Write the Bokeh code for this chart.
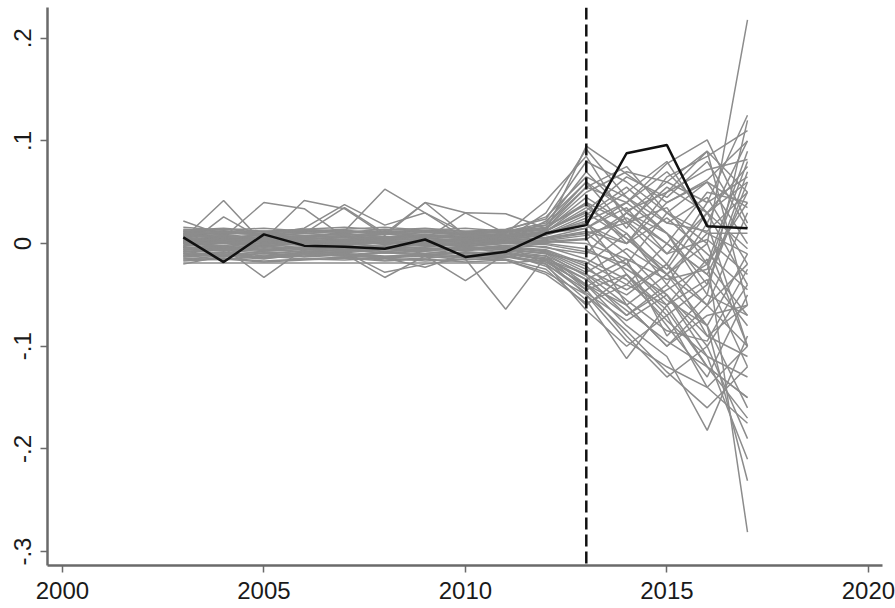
from bokeh.plotting import figure
from bokeh.models import Range1d, FixedTicker, Span
from bokeh.embed import file_html
from bokeh.resources import INLINE

years = [2003, 2004, 2005, 2006, 2007, 2008, 2009, 2010, 2011, 2012, 2013, 2014, 2015, 2016, 2017]
treatment_year = 2013
x_ticks = [2000, 2005, 2010, 2015, 2020]
y_ticks = [-0.3, -0.2, -0.1, 0.0, 0.1, 0.2]
y_tick_labels = ["-.3", "-.2", "-.1", "0", ".1", ".2"]

treated_gap = [0.006, -0.018, 0.009, -0.002, -0.003, -0.005, 0.004, -0.013, -0.008, 0.010, 0.018, 0.088, 0.096, 0.017, 0.015]

gap_u01 = [0.012, 0.011, 0.012, 0.012, 0.011, 0.012, 0.012, 0.011, 0.012, 0.013, 0.030, 0.005, -0.030, -0.060, -0.100]
gap_u02 = [-0.019, -0.019, -0.019, -0.019, -0.019, -0.019, -0.019, -0.019, -0.019, -0.016, -0.035, -0.065, -0.095, -0.120, -0.150]
gap_u03 = [0.022, 0.008, 0.004, 0.006, 0.003, 0.005, 0.006, 0.002, 0.004, 0.012, 0.095, 0.068, 0.040, 0.062, 0.100]
gap_u04 = [0.005, 0.042, 0.000, 0.003, 0.002, 0.004, 0.003, 0.001, 0.004, 0.030, 0.092, 0.045, 0.020, 0.012, 0.050]
gap_u05 = [-0.004, 0.026, 0.004, 0.042, 0.034, 0.008, 0.040, 0.030, 0.010, 0.042, 0.085, 0.022, -0.010, 0.004, -0.030]
gap_u06 = [0.002, -0.004, -0.033, -0.005, 0.000, -0.003, -0.010, -0.005, -0.002, -0.020, -0.065, -0.100, -0.070, -0.140, -0.175]
gap_u07 = [-0.010, -0.005, -0.008, -0.010, -0.008, -0.028, -0.020, -0.015, -0.064, -0.012, -0.040, -0.080, -0.110, -0.182, -0.090]
gap_u08 = [0.000, 0.004, 0.006, 0.005, 0.012, 0.053, 0.030, 0.005, 0.002, 0.022, 0.060, 0.032, 0.050, 0.072, 0.082]
gap_u09 = [0.008, 0.010, 0.009, 0.015, 0.038, 0.018, 0.030, 0.010, 0.008, 0.010, 0.022, 0.040, 0.078, 0.101, 0.020]
gap_u10 = [-0.012, -0.010, -0.014, -0.008, -0.010, -0.012, -0.011, -0.009, -0.010, -0.022, -0.055, -0.112, -0.060, -0.035, -0.120]
gap_u11 = [0.004, 0.002, 0.005, 0.001, 0.003, 0.000, 0.002, 0.004, 0.003, 0.006, 0.010, -0.020, 0.030, 0.000, 0.218]
gap_u12 = [-0.006, -0.004, -0.002, -0.006, -0.004, -0.008, -0.005, -0.003, -0.006, -0.010, -0.018, -0.040, -0.060, -0.015, -0.281]
gap_u13 = [0.010, 0.006, 0.008, 0.004, 0.007, 0.005, 0.009, 0.006, 0.008, 0.012, 0.035, 0.010, -0.030, -0.080, -0.231]
gap_u14 = [-0.015, -0.012, -0.010, -0.013, -0.011, -0.014, -0.012, -0.016, -0.013, -0.020, -0.045, -0.090, -0.130, -0.100, -0.190]
gap_u15 = [0.006, 0.004, 0.010, 0.008, 0.006, 0.010, 0.008, 0.007, 0.009, 0.015, 0.050, 0.070, 0.060, 0.040, 0.125]
gap_u16 = [-0.002, 0.000, -0.003, 0.002, -0.001, 0.001, -0.002, 0.000, 0.001, -0.004, -0.010, 0.030, 0.010, -0.050, 0.120]
gap_u17 = [0.014, 0.012, 0.010, 0.014, 0.012, 0.010, 0.013, 0.012, 0.011, 0.016, 0.040, 0.000, 0.050, 0.090, -0.060]
gap_u18 = [-0.008, -0.006, -0.010, -0.007, -0.009, -0.006, -0.008, -0.010, -0.007, -0.012, -0.030, -0.050, -0.020, -0.090, -0.110]
gap_u19 = [0.003, 0.006, 0.002, 0.005, 0.004, 0.006, 0.003, 0.005, 0.004, 0.008, 0.020, -0.030, -0.070, -0.040, 0.070]
gap_u20 = [-0.014, -0.016, -0.012, -0.015, -0.013, -0.016, -0.014, -0.012, -0.015, -0.025, -0.060, -0.030, -0.080, -0.130, -0.050]
gap_u21 = [0.009, 0.007, 0.006, 0.008, 0.010, 0.007, 0.006, 0.009, 0.008, 0.010, 0.015, 0.035, -0.010, 0.030, 0.060]
gap_u22 = [0.001, -0.002, 0.003, 0.000, 0.002, -0.001, 0.001, 0.003, 0.000, 0.002, 0.005, -0.060, -0.100, -0.060, -0.020]
gap_u23 = [-0.004, -0.002, -0.006, -0.003, -0.005, -0.002, -0.004, -0.006, -0.003, -0.006, -0.020, 0.010, -0.040, 0.020, -0.100]
gap_u24 = [0.011, 0.009, 0.012, 0.010, 0.008, 0.011, 0.009, 0.010, 0.012, 0.020, 0.070, 0.030, 0.000, 0.050, 0.040]
gap_u25 = [-0.010, -0.013, -0.009, -0.012, -0.010, -0.013, -0.011, -0.009, -0.012, -0.018, -0.040, -0.070, -0.040, -0.080, -0.160]
gap_u26 = [0.005, 0.003, 0.007, 0.004, 0.006, 0.003, 0.005, 0.007, 0.004, 0.009, 0.025, 0.050, 0.080, 0.020, 0.100]
gap_u27 = [-0.001, 0.002, -0.002, 0.001, -0.001, 0.002, 0.000, -0.002, 0.001, 0.000, -0.005, -0.025, -0.050, -0.100, -0.040]
gap_u28 = [0.007, 0.009, 0.005, 0.008, 0.006, 0.009, 0.007, 0.005, 0.008, 0.014, 0.045, 0.020, 0.035, -0.020, 0.090]
gap_u29 = [-0.007, -0.009, -0.005, -0.008, -0.006, -0.009, -0.007, -0.005, -0.008, -0.014, -0.035, -0.015, -0.090, -0.050, -0.070]
gap_u30 = [0.013, 0.015, 0.012, 0.014, 0.016, 0.013, 0.015, 0.012, 0.014, 0.024, 0.080, 0.060, 0.030, 0.010, -0.010]
gap_u31 = [-0.003, -0.005, -0.001, -0.004, -0.002, -0.005, -0.003, -0.001, -0.004, -0.008, -0.025, -0.045, -0.020, -0.060, 0.030]
gap_u32 = [0.002, 0.005, 0.001, 0.004, 0.002, 0.005, 0.003, 0.001, 0.004, 0.005, 0.012, 0.000, 0.040, 0.060, 0.000]
gap_u33 = [-0.011, -0.008, -0.012, -0.009, -0.011, -0.008, -0.010, -0.012, -0.009, -0.016, -0.050, -0.095, -0.120, -0.140, -0.100]
gap_u34 = [0.016, 0.013, 0.015, 0.012, 0.014, 0.016, 0.013, 0.015, 0.012, 0.018, 0.055, 0.040, 0.070, 0.030, 0.075]
gap_u35 = [0.000, -0.003, 0.001, -0.002, 0.000, -0.003, -0.001, 0.001, -0.002, -0.003, -0.015, -0.035, -0.075, -0.110, -0.130]
gap_u36 = [-0.016, -0.014, -0.017, -0.015, -0.016, -0.014, -0.017, -0.015, -0.016, -0.030, -0.058, -0.040, 0.000, -0.030, -0.080]
gap_u37 = [0.004, 0.007, 0.003, 0.006, 0.004, 0.007, 0.005, 0.003, 0.006, 0.010, 0.028, 0.055, 0.020, 0.045, -0.020]
gap_u38 = [-0.005, -0.007, -0.004, -0.006, -0.008, -0.005, -0.007, -0.004, -0.006, -0.009, -0.028, -0.005, -0.030, 0.010, 0.010]
gap_u39 = [0.010, 0.012, 0.009, 0.011, 0.013, 0.010, 0.012, 0.009, 0.011, 0.018, 0.060, 0.015, 0.065, 0.085, 0.110]
gap_u40 = [-0.009, -0.011, -0.008, -0.010, -0.012, -0.009, -0.011, -0.008, -0.010, -0.015, -0.030, -0.060, -0.100, -0.070, -0.060]
gap_u41 = [0.003, 0.001, 0.004, 0.002, 0.000, 0.003, 0.001, 0.004, 0.002, 0.003, 0.008, 0.025, 0.000, -0.030, 0.050]
gap_u42 = [-0.002, 0.001, -0.003, 0.000, -0.002, 0.001, -0.001, -0.003, 0.000, -0.001, -0.008, -0.020, -0.060, -0.120, -0.170]
gap_u43 = [0.008, 0.005, 0.009, 0.006, 0.008, 0.005, 0.007, 0.009, 0.006, 0.012, 0.032, 0.065, 0.045, 0.080, 0.015]
gap_u44 = [-0.013, -0.011, -0.014, -0.012, -0.010, -0.013, -0.011, -0.014, -0.012, -0.020, -0.048, -0.075, -0.050, -0.110, -0.210]
gap_u45 = [0.006, 0.008, 0.005, 0.007, 0.009, 0.006, 0.008, 0.005, 0.007, 0.011, 0.018, 0.000, 0.025, -0.010, -0.045]
gap_u46 = [0.001, 0.003, 0.000, 0.002, 0.001, 0.003, 0.001, 0.000, 0.002, 0.002, 0.000, -0.015, -0.035, -0.025, 0.080]
gap_u47 = [-0.006, -0.003, -0.007, -0.004, -0.006, -0.003, -0.005, -0.007, -0.004, -0.007, -0.022, -0.055, -0.085, -0.095, -0.025]
gap_u48 = [0.012, 0.014, 0.011, 0.013, 0.011, 0.014, 0.012, 0.010, 0.013, 0.026, 0.065, 0.045, 0.010, -0.040, 0.060]
gap_u49 = [-0.017, -0.015, -0.018, -0.016, -0.014, -0.017, -0.015, -0.018, -0.016, -0.028, -0.050, -0.085, -0.125, -0.160, -0.120]
gap_u50 = [0.002, 0.000, 0.003, 0.001, 0.003, 0.000, 0.002, 0.003, 0.001, 0.004, 0.010, 0.020, 0.055, 0.030, -0.005]
gap_u51 = [0.008, 0.006, 0.040, 0.034, 0.006, 0.004, 0.008, 0.005, 0.007, 0.012, 0.040, 0.020, -0.020, 0.040, 0.065]
gap_u52 = [0.004, 0.002, 0.006, 0.010, 0.035, 0.010, 0.004, 0.030, 0.029, 0.015, 0.055, 0.075, 0.030, 0.060, 0.035]
gap_u53 = [-0.008, -0.004, -0.006, -0.008, -0.010, -0.033, -0.012, -0.036, -0.010, -0.012, -0.045, -0.030, -0.065, -0.120, -0.150]
gap_u54 = [0.002, 0.004, 0.003, 0.005, 0.006, 0.010, 0.040, 0.008, 0.005, 0.010, 0.020, -0.010, -0.050, -0.090, -0.060]
gap_u55 = [-0.020, -0.012, -0.015, -0.010, -0.012, -0.014, -0.023, -0.010, -0.012, -0.018, -0.040, -0.060, -0.030, 0.000, -0.100]
gap_u56 = [0.006, 0.003, 0.005, 0.002, 0.004, 0.006, 0.003, 0.005, 0.002, 0.006, 0.015, 0.040, 0.010, -0.020, -0.070]
gap_u57 = [-0.004, -0.006, -0.003, -0.005, -0.007, -0.004, -0.006, -0.003, -0.005, -0.010, -0.032, -0.070, -0.045, -0.020, 0.040]
gap_u58 = [0.009, 0.011, 0.008, 0.010, 0.012, 0.009, 0.011, 0.008, 0.010, 0.016, 0.038, 0.005, -0.025, 0.030, -0.040]
gap_u59 = [-0.012, -0.009, -0.013, -0.010, -0.012, -0.009, -0.011, -0.013, -0.010, -0.016, -0.042, -0.020, -0.055, -0.080, -0.010]
gap_u60 = [0.000, 0.002, -0.001, 0.001, 0.003, 0.000, 0.002, -0.001, 0.001, 0.001, 0.004, 0.030, 0.060, 0.090, 0.050]

placebo_units = [
    gap_u01, gap_u02, gap_u03, gap_u04, gap_u05, gap_u06, gap_u07, gap_u08, gap_u09, gap_u10,
    gap_u11, gap_u12, gap_u13, gap_u14, gap_u15, gap_u16, gap_u17, gap_u18, gap_u19, gap_u20,
    gap_u21, gap_u22, gap_u23, gap_u24, gap_u25, gap_u26, gap_u27, gap_u28, gap_u29, gap_u30,
    gap_u31, gap_u32, gap_u33, gap_u34, gap_u35, gap_u36, gap_u37, gap_u38, gap_u39, gap_u40,
    gap_u41, gap_u42, gap_u43, gap_u44, gap_u45, gap_u46, gap_u47, gap_u48, gap_u49, gap_u50,
    gap_u51, gap_u52, gap_u53, gap_u54, gap_u55, gap_u56, gap_u57, gap_u58, gap_u59, gap_u60,
]

FONT = "Liberation Sans"
AXIS_COLOR = "#6a6a6a"

p = figure(
    width=895, height=608,
    output_backend="svg", toolbar_location=None,
    x_range=Range1d(1999.63, 2020.35), y_range=Range1d(-0.3136, 0.23),
    min_border_left=47, min_border_right=13, min_border_top=7, min_border_bottom=43,
)
p.background_fill_color = "white"
p.border_fill_color = "white"
p.outline_line_color = None
p.xgrid.grid_line_color = None
p.ygrid.grid_line_color = None

for unit in placebo_units:
    p.line(years, unit, line_color="#8c8c8c", line_width=1.5)

p.add_layout(Span(location=treatment_year, dimension="height", line_color="#111111",
                  line_width=2.5, line_dash="12 5"))

p.line(years, treated_gap, line_color="#111111", line_width=2.5)

p.xaxis.ticker = FixedTicker(ticks=x_ticks)
p.yaxis.ticker = FixedTicker(ticks=y_ticks)
p.yaxis.major_label_overrides = {t: l for t, l in zip(y_ticks, y_tick_labels)}
p.yaxis.major_label_orientation = "vertical"

for ax in (p.xaxis[0], p.yaxis[0]):
    ax.axis_line_color = AXIS_COLOR
    ax.axis_line_width = 2.5
    ax.major_tick_line_color = AXIS_COLOR
    ax.major_tick_line_width = 1.5
    ax.major_tick_in = 0
    ax.major_tick_out = 7
    ax.minor_tick_line_color = None
    ax.major_label_text_font = FONT
    ax.major_label_text_font_size = "24px"
    ax.major_label_text_color = "#1a1a1a"
p.xaxis.major_label_standoff = 9
p.yaxis.major_label_standoff = 9

open("out.html", "w").write(file_html(p, INLINE))
